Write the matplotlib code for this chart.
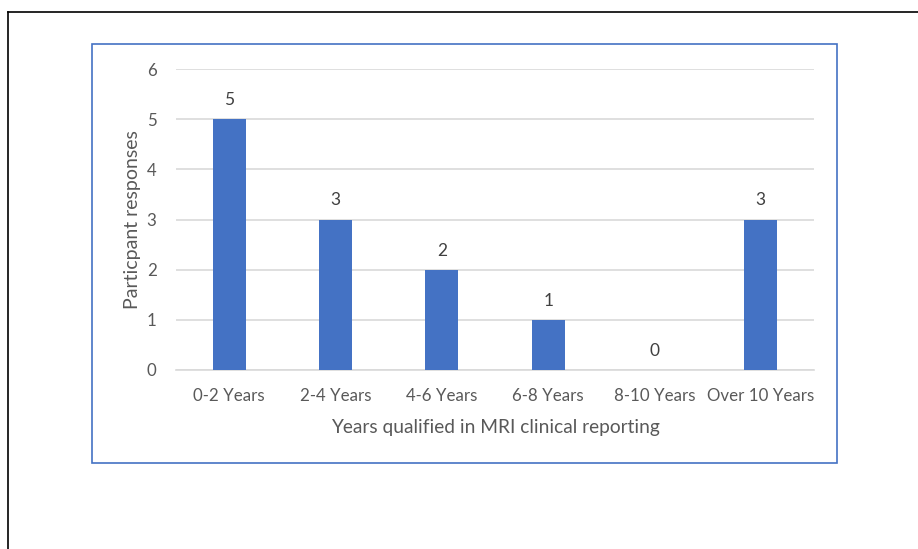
import matplotlib
matplotlib.use("Agg")
import matplotlib.pyplot as plt
from matplotlib.patches import Rectangle
from matplotlib.lines import Line2D

categories = ["0-2 Years", "2-4 Years", "4-6 Years", "6-8 Years", "8-10 Years", "Over 10 Years"]
responses = [5, 3, 2, 1, 0, 3]
y_ticks = [0, 1, 2, 3, 4, 5, 6]

W, H = 918, 549
plt.rcParams["font.family"] = ["Lato", "DejaVu Sans"]

fig = plt.figure(figsize=(W / 100, H / 100), dpi=100)
fig.patch.set_facecolor("white")

def fx(px):
    return px / W

def fy(py):
    return 1 - py / H

# Page frame lines (top and left)
fig.add_artist(Line2D([fx(8), 1.0], [fy(12), fy(12)], color="black", lw=1.2))
fig.add_artist(Line2D([fx(8), fx(8)], [fy(12), 0.0], color="black", lw=1.2))

# Chart area border
fig.add_artist(Rectangle((fx(92), fy(463)), fx(837) - fx(92), fy(44) - fy(463),
                         fill=False, edgecolor="#4472C4", lw=1.2))

ax = fig.add_axes([fx(176), fy(370), fx(814) - fx(176), fy(69) - fy(370)])
x = list(range(len(categories)))
ax.bar(x, responses, width=0.31, color="#4472C4", zorder=3)
ax.set_xlim(-0.5, len(categories) - 0.5)
ax.set_ylim(0, 6)
ax.set_yticks(y_ticks)
ax.yaxis.grid(True, color="#D9D9D9", lw=1.2, zorder=0)
ax.set_xticks(x)
ax.set_xticklabels(categories)
for s in ["top", "right", "left"]:
    ax.spines[s].set_visible(False)
ax.spines["bottom"].set_color("#D9D9D9")
ax.spines["bottom"].set_linewidth(1.2)
ax.tick_params(axis="both", length=0, colors="#595959", labelsize=12.2)
ax.tick_params(axis="x", pad=13)
ax.tick_params(axis="y", pad=14)

for xi, v in zip(x, responses):
    ax.annotate(str(v), (xi, v), xytext=(0, 8), textcoords="offset points",
                ha="center", va="bottom", fontsize=12.5, color="#404040")

ax.set_xlabel("Years qualified in MRI clinical reporting", fontsize=13.8, color="#595959", labelpad=11)
ax.set_ylabel("Particpant responses", fontsize=14, color="#595959", labelpad=4)

fig.savefig("out.png", dpi=100, facecolor="white")
